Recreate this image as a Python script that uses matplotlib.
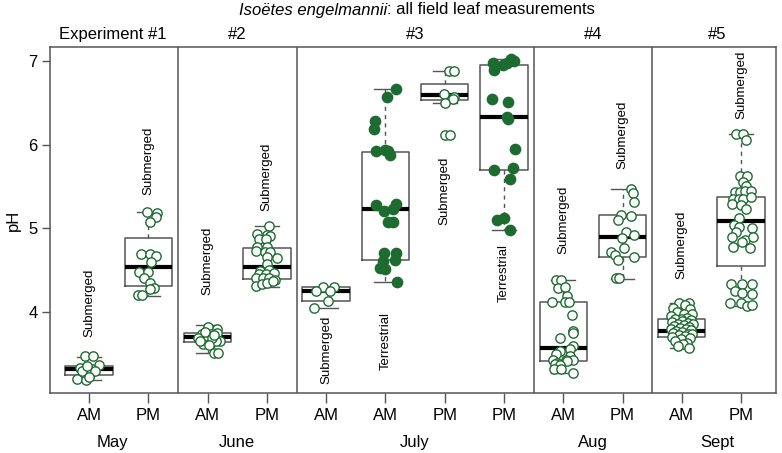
import matplotlib
matplotlib.use('Agg')
import matplotlib.pyplot as plt

plt.rcParams['font.family'] = ['Liberation Sans', 'DejaVu Sans']

# ---------------- data ----------------
tick_labels = ['AM', 'PM', 'AM', 'PM', 'AM', 'AM', 'PM', 'PM', 'AM', 'PM', 'AM', 'PM']
months = ['May', 'June', 'July', 'Aug', 'Sept']
month_pos = [1.4, 3.5, 6.5, 9.5, 11.6]
experiments = ['Experiment #1', '#2', '#3', '#4', '#5']
experiment_pos = [1.4, 3.5, 6.5, 9.5, 11.6]
separators = [2.5, 4.5, 8.5, 10.5]
habitat = ['Submerged', 'Submerged', 'Submerged', 'Submerged', 'Submerged', 'Terrestrial',
           'Submerged', 'Terrestrial', 'Submerged', 'Submerged', 'Submerged', 'Submerged']
habitat_label_ph = [3.70, 5.40, 4.20, 5.20, 3.14, 3.31, 5.04, 4.12, 4.69, 5.71, 4.39, 6.31]
terrestrial = [False, False, False, False, False, True, False, True, False, False, False, False]

box_whislo = [3.18, 4.195, 3.506, 4.302, 4.05, 4.355, 6.50, 4.98, 3.275, 4.398, 3.57, 4.072]
box_q1 = [3.25, 4.311, 3.645, 4.391, 4.128, 4.621, 6.530, 5.697, 3.418, 4.654, 3.698, 4.550]
box_med = [3.315, 4.534, 3.698, 4.534, 4.255, 5.227, 6.594, 6.334, 3.570, 4.896, 3.777, 5.091]
box_q3 = [3.357, 4.888, 3.749, 4.769, 4.30, 5.916, 6.729, 6.948, 4.123, 5.156, 3.913, 5.378]
box_whishi = [3.465, 5.19, 3.84, 5.028, 4.30, 6.662, 6.877, 7.020, 4.382, 5.474, 4.111, 6.127]

may_am_ph = [3.47, 3.47, 3.37, 3.33, 3.32, 3.32, 3.27, 3.26, 3.20, 3.19, 3.29, 3.29, 3.35, 3.22]
may_am_dx = [-0.07, 0.07, 0.16, -0.15, -0.05, 0.05, -0.10, 0.02, -0.20, -0.05, -0.12, 0.10, -0.03, 0.0]
may_pm_ph = [5.19, 5.18, 5.13, 5.08, 4.69, 4.69, 4.67, 4.60, 4.48, 4.48, 4.41, 4.35, 4.29, 4.27, 4.20, 4.20]
may_pm_dx = [-0.03, 0.15, 0.13, 0.02, -0.12, 0.03, 0.13, 0.05, -0.15, -0.01, -0.07, 0.03, 0.09, 0.02, -0.17, -0.10]
jun_am_ph = [3.82, 3.80, 3.73, 3.73, 3.75, 3.69, 3.69, 3.65, 3.61, 3.63, 3.65, 3.51, 3.51, 3.76, 3.69, 3.65, 3.72, 3.60]
jun_am_dx = [0.0, 0.16, -0.10, 0.05, 0.16, -0.17, 0.0, 0.21, -0.08, 0.06, 0.14, 0.11, 0.18, -0.05, 0.08, -0.13, 0.10, 0.02]
jun_pm_ph = [5.03, 4.93, 4.92, 4.91, 4.87, 4.87, 4.77, 4.77, 4.73, 4.71, 4.71, 4.65, 4.64, 4.57,
             4.49, 4.50, 4.45, 4.45, 4.46, 4.40, 4.40, 4.40, 4.38, 4.31, 4.33, 4.34, 4.37]
jun_pm_dx = [0.04, -0.16, 0.0, 0.05, -0.14, -0.02, -0.16, 0.0, -0.19, -0.03, 0.05, 0.0, 0.17, 0.0,
             -0.12, 0.04, -0.14, -0.02, 0.12, -0.19, -0.06, 0.04, 0.14, -0.19, -0.08, 0.0, 0.10]
jul_am_sub_ph = [4.30, 4.30, 4.25, 4.25, 4.13, 4.05]
jul_am_sub_dx = [-0.06, 0.13, -0.17, 0.07, 0.03, -0.21]
jul_am_ter_ph = [6.66, 6.57, 6.28, 6.19, 5.92, 5.94, 5.92, 5.88, 5.28, 5.21, 5.23, 5.29, 5.08, 5.07,
                 4.70, 4.70, 4.61, 4.62, 4.52, 4.51, 4.36]
jul_am_ter_dx = [0.17, 0.02, -0.17, -0.19, -0.16, 0.0, 0.04, 0.07, -0.16, -0.02, 0.12, 0.17, 0.04, 0.12,
                 -0.02, 0.17, -0.04, 0.16, -0.09, 0.0, 0.19]
jul_pm_sub_ph = [6.88, 6.88, 6.60, 6.57, 6.55, 6.50, 6.12, 6.12]
jul_pm_sub_dx = [0.07, 0.15, -0.01, 0.16, 0.14, 0.0, 0.01, 0.09]
jul_pm_ter_ph = [6.97, 6.89, 6.95, 6.98, 7.02, 7.00, 6.54, 6.51, 6.33, 6.30, 5.95, 5.70, 5.72, 5.59,
                 5.10, 5.12, 4.98]
jul_pm_ter_dx = [-0.19, -0.16, -0.02, 0.05, 0.12, 0.17, -0.20, 0.07, 0.05, 0.06, 0.18, -0.17, 0.16, 0.10,
                 -0.12, 0.0, 0.11]
aug_am_ph = [4.38, 4.38, 4.29, 4.30, 4.19, 4.12, 4.12, 4.12, 3.96, 3.77, 3.75, 3.69, 3.59, 3.56,
             3.53, 3.50, 3.47, 3.43, 3.43, 3.42, 3.39, 3.41, 3.38, 3.36, 3.32, 3.32, 3.27]
aug_am_dx = [-0.12, -0.04, -0.08, 0.03, 0.06, -0.19, 0.03, 0.10, 0.15, 0.16, 0.17, -0.06, 0.16, 0.12,
             -0.05, -0.13, 0.12, 0.16, 0.05, -0.17, -0.10, 0.07, -0.14, -0.06, -0.16, -0.04, 0.16]
aug_pm_ph = [5.47, 5.42, 5.31, 5.16, 5.10, 5.15, 4.95, 4.92, 4.88, 4.76, 4.71, 4.68, 4.62, 4.65, 4.40, 4.40]
aug_pm_dx = [0.14, 0.17, 0.19, -0.03, -0.07, 0.15, 0.06, 0.20, -0.01, 0.03, -0.19, -0.12, -0.08, 0.19, -0.11, -0.06]
sep_am_ph = [4.11, 4.10, 4.08, 4.05, 4.03, 4.00, 3.98, 3.97, 3.95, 3.93, 3.92, 3.91, 3.90, 3.89,
             3.88, 3.87, 3.86, 3.85, 3.84, 3.83, 3.82, 3.81, 3.80, 3.79, 3.78, 3.77, 3.76, 3.75,
             3.74, 3.73, 3.72, 3.71, 3.70, 3.69, 3.67, 3.65, 3.63, 3.61, 3.59, 3.57]
sep_am_dx = [0.12, -0.05, 0.06, -0.15, 0.14, -0.08, 0.03, 0.17, -0.18, 0.08, -0.02, -0.12, 0.15, 0.0,
             -0.16, 0.10, -0.06, 0.19, 0.04, -0.13, 0.12, -0.03, -0.19, 0.07, 0.16, -0.09, 0.01, -0.15,
             0.11, 0.18, -0.05, 0.06, -0.17, 0.14, -0.01, -0.11, 0.09, 0.02, -0.07, 0.13]
sep_pm_ph = [6.13, 6.13, 6.05, 5.62, 5.62, 5.55, 5.51, 5.43, 5.43, 5.44, 5.45, 5.35, 5.35, 5.35, 5.37,
             5.29, 5.28, 5.23, 5.12, 5.04, 5.01, 5.00, 4.95, 4.90, 4.86, 4.90, 4.77, 4.84, 4.76,
             4.33, 4.33, 4.33, 4.25, 4.22, 4.21, 4.10, 4.11, 4.07, 4.08]
sep_pm_dx = [-0.09, 0.03, 0.08, -0.01, 0.10, 0.03, 0.08, -0.11, -0.01, 0.07, 0.17, -0.14, -0.04, 0.04, 0.16,
             -0.16, 0.0, 0.09, -0.04, -0.12, -0.04, 0.18, -0.09, -0.15, 0.06, 0.20, -0.14, 0.01, 0.15,
             -0.17, 0.02, 0.18, -0.11, 0.02, 0.19, -0.18, 0.0, 0.10, 0.18]

points_ph = [may_am_ph, may_pm_ph, jun_am_ph, jun_pm_ph, jul_am_sub_ph, jul_am_ter_ph,
             jul_pm_sub_ph, jul_pm_ter_ph, aug_am_ph, aug_pm_ph, sep_am_ph, sep_pm_ph]
points_dx = [may_am_dx, may_pm_dx, jun_am_dx, jun_pm_dx, jul_am_sub_dx, jul_am_ter_dx,
             jul_pm_sub_dx, jul_pm_ter_dx, aug_am_dx, aug_pm_dx, sep_am_dx, sep_pm_dx]

# ---------------- plot ----------------
GREEN = '#1e6b32'
GRAY = '#555555'

fig = plt.figure(figsize=(7.82, 4.53), dpi=100)
ax = fig.add_axes([50 / 782, 60 / 453, 726 / 782, 346.3 / 453])

positions = list(range(1, len(tick_labels) + 1))
stats = []
for i in range(len(positions)):
    stats.append(dict(med=box_med[i], q1=box_q1[i], q3=box_q3[i],
                      whislo=box_whislo[i], whishi=box_whishi[i], fliers=[]))

ax.bxp(stats, positions=positions, widths=0.8, capwidths=0.4, showfliers=False,
       boxprops=dict(color=GRAY, linewidth=1.1),
       whiskerprops=dict(color=GRAY, linewidth=1.0, linestyle=(0, (3, 3))),
       capprops=dict(color=GRAY, linewidth=1.0),
       medianprops=dict(color='black', linewidth=3.0, solid_capstyle='butt'))

for i, p in enumerate(positions):
    xs = [p + d for d in points_dx[i]]
    if terrestrial[i]:
        ax.scatter(xs, points_ph[i], s=55, facecolor=GREEN, edgecolor=GREEN, linewidth=1.0, zorder=4)
    else:
        ax.scatter(xs, points_ph[i], s=45, facecolor='white', edgecolor=GREEN, linewidth=1.0, zorder=4)

for i, p in enumerate(positions):
    ax.text(p, habitat_label_ph[i], habitat[i], rotation=90, ha='center', va='bottom', fontsize=9.5)

for s in separators:
    ax.axvline(s, color=GRAY, linewidth=1.1, zorder=1)

ax.set_xlim(0.34, 12.59)
ax.set_ylim(3.03, 7.17)
ax.set_yticks([4, 5, 6, 7])
ax.set_xticks(positions)
ax.set_xticklabels(tick_labels)
ax.tick_params(axis='x', length=7, width=1, color=GRAY, labelsize=12, pad=4)
ax.tick_params(axis='y', length=6, width=1, color=GRAY, labelsize=12, pad=3)
for sp in ax.spines.values():
    sp.set_color(GRAY)
    sp.set_linewidth(1.1)

trans = ax.get_xaxis_transform()
for m, mp in zip(months, month_pos):
    ax.text(mp, -0.144, m, transform=trans, ha='center', va='center', fontsize=12)
for e, ep in zip(experiments, experiment_pos):
    ax.text(ep, 1.034, e, transform=trans, ha='center', va='center', fontsize=12)

fig.text(13 / 782, 1 - 220 / 453, 'pH', rotation=90, ha='center', va='center', fontsize=12)

t1 = fig.text(239 / 782, 1 - 10 / 453, 'Isoëtes engelmannii', style='italic',
              ha='left', va='center', fontsize=12)
fig.canvas.draw()
ax.annotate(': all field leaf measurements', xy=(1, 0), xycoords=t1,
            ha='left', va='bottom', fontsize=12, annotation_clip=False)

fig.savefig('out.png', dpi=100)
